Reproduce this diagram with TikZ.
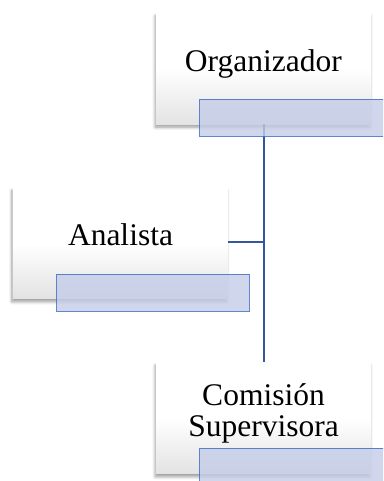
\documentclass[tikz,border=0pt]{standalone}
\usepackage{fontspec}
\setmainfont{Liberation Serif}
\usetikzlibrary{shadows.blur}
\definecolor{tagfill}{RGB}{196,205,232}
\definecolor{tagdraw}{RGB}{68,114,196}
\definecolor{linkblue}{RGB}{52,88,160}
\tikzset{
  x=1pt, y=1pt,
  rolebox/.style={draw=none, rectangle, minimum width=214.7pt, minimum height=111.3pt,
    inner sep=0pt, anchor=north west, top color=white, bottom color=black!11, middle color=white,
    blur shadow={shadow xshift=-1pt, shadow yshift=-3pt, shadow blur radius=3pt, shadow blur steps=8, shadow opacity=40}},
  roletag/.style={rectangle, minimum width=192.7pt, minimum height=37pt, inner sep=0pt,
    anchor=north west, fill=tagfill, fill opacity=0.8, draw=tagdraw, draw opacity=0.85, line width=1pt},
  roletext/.style={font=\fontsize{31.5}{31.7}\selectfont, inner sep=0pt, align=center},
  link/.style={draw=linkblue, line width=2.2pt}
}
\begin{document}
\begin{tikzpicture}
\useasboundingbox (0,0) rectangle (383,-481);
\clip (0,0) rectangle (383,-481);
% boxes
\node[rolebox] (org) at (156,-12.7) {};
\node[rolebox] (ana) at (12.7,-187.3) {};
\node[rolebox] (com) at (156,-362.3) {};
% connectors
\coordinate (jct) at (264,-242.3);
\draw[link] (org.south -| jct) -- (com.north -| jct);
\draw[link] (ana.east |- jct) -- (jct);
% tags
\node[roletag] (orgtag) at (199.3,-99) {};
\node[roletag] (anatag) at (56,-273.7) {};
\node[roletag] (comtag) at (199.3,-447.7) {};
% texts
\node[roletext, anchor=base] (orgtxt) at (263.3,-72) {Organizador};
\node[roletext, anchor=base] (anatxt) at (120.5,-245.7) {Analista};
\node[roletext, anchor=base] (comtxt) at (263.5,-436.7) {Comisión\\Supervisora};
\end{tikzpicture}
\end{document}
